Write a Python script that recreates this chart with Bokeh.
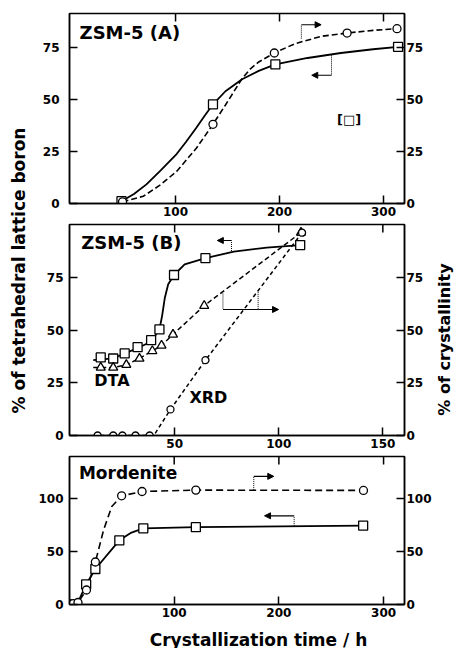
import math
from bokeh.plotting import figure
from bokeh.models import Range1d, LinearAxis, FixedTicker, Label, Arrow, NormalHead
from bokeh.layouts import row, column
from bokeh.embed import file_html
from bokeh.resources import INLINE

# ---------------- data ----------------
# Panel A: ZSM-5 (A)
a_sq_x = [48, 136, 196, 314]
a_sq_y = [1.1, 47.7, 66.9, 75.3]
a_ci_x = [49, 136, 195, 265, 313]
a_ci_y = [0.8, 38.1, 72.4, 82.0, 84.1]
a_sq_curve_x = [48, 60, 72, 85, 101, 110, 120, 128, 136, 148, 164, 180, 196, 227, 259, 290, 314]
a_sq_curve_y = [1.1, 4.6, 9.2, 15.6, 23.8, 29.6, 36.4, 42.2, 47.7, 54.0, 59.8, 63.8, 66.9, 70.0, 72.4, 74.2, 75.3]
a_ci_curve_x = [49, 69, 85, 101, 120, 136, 148, 164, 172, 180, 195, 215, 240, 265, 290, 313]
a_ci_curve_y = [0.8, 3.5, 8.8, 15.4, 26.6, 38.1, 47.4, 60.1, 64.8, 68.1, 72.4, 76.9, 80.4, 82.0, 83.3, 84.1]

# Panel B: ZSM-5 (B)
b_sq_x = [14.5, 20.5, 26.0, 32.2, 38.7, 42.7, 49.7, 64.8, 110.3]
b_sq_y = [37.1, 36.6, 39.0, 42.0, 45.3, 50.4, 76.3, 84.3, 90.5]
b_sq_curve_x = [10.9, 20.5, 26.0, 32.2, 38.7, 42.7, 44.0, 45.3, 46.9, 49.7, 54.8, 64.8, 78.4, 94.2, 110.3]
b_sq_curve_y = [35.8, 36.7, 39.0, 41.5, 44.7, 50.4, 57.0, 65.5, 71.9, 76.3, 81.3, 84.3, 87.4, 89.3, 90.5]
b_dta_x = [14.5, 20.5, 26.8, 33.1, 39.3, 43.7, 49.2, 64.2, 110.7]
b_dta_y = [32.3, 32.3, 33.6, 36.6, 40.2, 42.8, 48.0, 61.7, 96.5]
b_dta_curve_x = [10.9, 14.5, 20.5, 26.8, 33.1, 39.3, 43.7, 49.2, 64.2, 110.7]
b_dta_curve_y = [32.3, 32.3, 32.3, 33.6, 36.6, 40.2, 42.8, 48.0, 61.7, 96.5]
b_xrd_x = [13.0, 20.5, 24.9, 31.2, 38.0, 48.0, 64.8, 111.2]
b_xrd_y = [0, 0, 0, 0, 0, 12.4, 35.8, 96.4]
b_xrd_curve_x = [11.0, 40.0, 48.0, 64.8, 111.2]
b_xrd_curve_y = [0, 0, 12.4, 35.8, 96.4]

# Panel C: Mordenite
c_sq_x = [15.9, 24.7, 47.6, 70.5, 120.7, 280.5]
c_sq_y = [19.0, 33.6, 60.7, 72.1, 73.1, 74.7]
c_sq_curve_x = [8.1, 15.9, 24.7, 47.6, 59.2, 70.5, 120.7, 280.5]
c_sq_curve_y = [1.9, 19.0, 33.6, 60.7, 68.0, 72.1, 73.1, 74.7]
c_ci_x = [0.5, 3.7, 8.1, 16.2, 24.7, 49.8, 69.3, 120.7, 280.8]
c_ci_y = [0.9, 0.9, 1.9, 13.7, 40.2, 102.8, 106.9, 108.2, 107.9]
c_ci_curve_x = [0.5, 3.7, 8.1, 16.2, 24.7, 32.6, 40.4, 49.8, 69.3, 120.7, 280.8]
c_ci_curve_y = [0.9, 0.9, 1.9, 13.7, 40.2, 70.6, 92.7, 102.8, 106.9, 108.2, 107.9]

# tick values
a_xticks = [100, 200, 300]
a_yticks = [0, 25, 50, 75]
b_xticks = [50, 100, 150]
b_yticks = [0, 25, 50, 75]
c_xticks = [100, 200, 300]
c_yticks = [0, 50, 100]

# axis ranges
a_xr, a_yr = (-2, 320.2), (0, 91.4)
b_xr, b_yr = (-0.5, 160.4), (0, 100.3)
c_xr, c_yr = (0, 320), (0, 140)

FONT = "DejaVu Sans"
TOTAL_H = 648
LEFT_W = 35
MAIN_W = 399
RIGHT_W = 20


def style_axis(ax, standoff):
    ax.axis_line_color = "black"
    ax.axis_line_width = 1.5
    ax.major_tick_in = 8
    ax.major_tick_out = 0
    ax.major_tick_line_width = 1.5
    ax.major_tick_line_color = "black"
    ax.minor_tick_line_color = None
    ax.major_label_text_font = FONT
    ax.major_label_text_font_style = "bold"
    ax.major_label_text_color = "black"
    ax.major_label_standoff = standoff
    ax.major_label_text_font_size = "12px"


def make_panel(height, xr, yr, xticks, yticks, bt, bb, lstand):
    p = figure(width=MAIN_W, height=height, x_range=Range1d(*xr), y_range=Range1d(*yr),
               x_axis_type=None, y_axis_type=None, toolbar_location=None,
               output_backend="svg", min_border_left=32, min_border_right=27,
               min_border_top=bt, min_border_bottom=bb)
    p.outline_line_color = "black"
    p.outline_line_width = 1.5
    p.background_fill_color = "white"
    p.border_fill_color = "white"
    bx = LinearAxis(ticker=FixedTicker(ticks=xticks, minor_ticks=[]))
    style_axis(bx, 3)
    p.add_layout(bx, "below")
    ly = LinearAxis(ticker=FixedTicker(ticks=yticks, minor_ticks=[]))
    style_axis(ly, lstand)
    p.add_layout(ly, "left")
    ry = LinearAxis(ticker=FixedTicker(ticks=yticks, minor_ticks=[]))
    style_axis(ry, 2)
    p.add_layout(ry, "right")
    # inward tick marks on the top edge (half of a dash, clipped by the frame)
    p.scatter(xticks, [yr[1]] * len(xticks), marker="dash", angle=math.pi / 2, size=16,
              line_color="black", line_width=1.5)
    return p


def open_markers(p, x, y, marker, size):
    p.scatter(x, y, marker=marker, size=size, fill_color="white",
              line_color="black", line_width=1.3)


def pointer(p, x, y0, y1, x_end):
    p.line([x, x], [y0, y1], line_color="black", line_width=1, line_dash="1 1")
    p.add_layout(Arrow(end=NormalHead(size=6, fill_color="black", line_color="black", line_width=1),
                       x_start=x, y_start=y1, x_end=x_end, y_end=y1,
                       line_color="black", line_width=1.2))


def text(p, x, y, s, size, align="left", units="data", angle=0.0):
    p.add_layout(Label(x=x, y=y, text=s, x_units=units, y_units=units, angle=angle,
                       text_font=FONT, text_font_style="bold", text_font_size=size,
                       text_color="black", text_align=align, text_baseline="middle"))


def strip(width, height):
    s = figure(width=width, height=height, x_range=Range1d(0, 1), y_range=Range1d(0, 1),
               x_axis_type=None, y_axis_type=None, toolbar_location=None,
               output_backend="svg", min_border=0)
    s.outline_line_color = None
    s.background_fill_color = "white"
    s.border_fill_color = "white"
    return s


# ---------------- panel A ----------------
p1 = make_panel(221, a_xr, a_yr, a_xticks, a_yticks, 13, 18, 10)
p1.line(a_sq_curve_x, a_sq_curve_y, line_color="black", line_width=1.8, line_join="round")
p1.line(a_ci_curve_x, a_ci_curve_y, line_color="black", line_width=1.6, line_dash="6 3")
open_markers(p1, a_sq_x, a_sq_y, "square", 9)
open_markers(p1, a_ci_x, a_ci_y, "circle", 8)
pointer(p1, 221, 79.3, 86, 240)
pointer(p1, 250, 71.6, 61.7, 231)
text(p1, 7.7, 82.5, "ZSM-5 (A)", "18px")
text(p1, 267, 40.2, "[\u25a1]", "13px", align="center")

# ---------------- panel B ----------------
p2 = make_panel(232, b_xr, b_yr, b_xticks, b_yticks, 3, 18, 6)
p2.line(b_sq_curve_x, b_sq_curve_y, line_color="black", line_width=1.8, line_join="round")
p2.line(b_dta_curve_x, b_dta_curve_y, line_color="black", line_width=1.5, line_dash="5 3")
p2.line(b_xrd_curve_x, b_xrd_curve_y, line_color="black", line_width=1.5, line_dash="4 3")
open_markers(p2, b_sq_x, b_sq_y, "square", 9)
open_markers(p2, b_dta_x, b_dta_y, "triangle", 9)
open_markers(p2, b_xrd_x, b_xrd_y, "circle", 7)
pointer(p2, 77.3, 87.7, 92.7, 70.5)
p2.line([73.2, 73.2], [67.5, 59.9], line_color="black", line_width=1, line_dash="1 1")
pointer(p2, 90.1, 68.3, 59.9, 99.9)
p2.line([73.2, 90.1], [59.9, 59.9], line_color="black", line_width=1.2)
text(p2, 5.1, 91.6, "ZSM-5 (B)", "18px")
text(p2, 11.4, 26, "DTA", "16px")
text(p2, 57.1, 18.1, "XRD", "16px")

# ---------------- panel C ----------------
p3 = make_panel(169, c_xr, c_yr, c_xticks, c_yticks, 3, 18, 6)
p3.line(c_sq_curve_x, c_sq_curve_y, line_color="black", line_width=1.8, line_join="round")
p3.line(c_ci_curve_x, c_ci_curve_y, line_color="black", line_width=1.6, line_dash="7 4")
open_markers(p3, c_sq_x, c_sq_y, "square", 9)
open_markers(p3, c_ci_x, c_ci_y, "circle", 8)
pointer(p3, 176, 108.2, 121.2, 195.1)
pointer(p3, 214.6, 74.4, 83.9, 186.3)
text(p3, 9, 124.3, "Mordenite", "17px")

# ---------------- label strips ----------------
pb = strip(MAIN_W, TOTAL_H - 221 - 232 - 169)
text(pb, 189, 9, "Crystallization time / h", "17px", align="center", units="screen")

pl = strip(LEFT_W, TOTAL_H)
text(pl, 18, TOTAL_H - 270, "% of tetrahedral lattice boron", "17px", align="center",
     units="screen", angle=math.pi / 2)

pr = strip(RIGHT_W, TOTAL_H)
text(pr, 10, TOTAL_H - 339, "% of crystallinity", "16px", align="center",
     units="screen", angle=math.pi / 2)

layout = row(pl, column(p1, p2, p3, pb), pr)
open("out.html", "w").write(file_html(layout, INLINE))
